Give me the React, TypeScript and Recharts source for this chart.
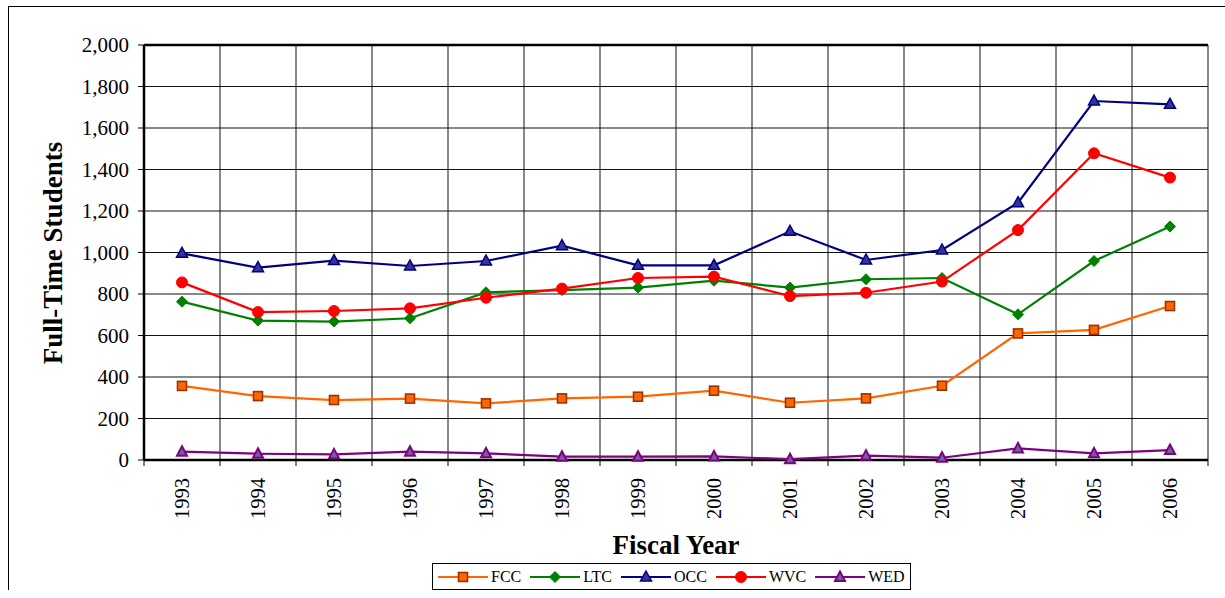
import React from 'react';
import { LineChart, Line, XAxis, YAxis, CartesianGrid, ReferenceLine } from 'recharts';

const years = ['1993', '1994', '1995', '1996', '1997', '1998', '1999', '2000', '2001', '2002', '2003', '2004', '2005', '2006'];
const fcc = [357, 308, 289, 296, 273, 297, 305, 334, 276, 297, 358, 610, 627, 742];
const ltc = [763, 672, 667, 683, 808, 819, 831, 864, 831, 871, 877, 702, 959, 1125];
const occ = [996, 927, 961, 935, 959, 1033, 938, 938, 1102, 964, 1012, 1240, 1730, 1714];
const wvc = [856, 713, 718, 731, 782, 826, 877, 884, 790, 806, 860, 1108, 1478, 1361];
const wed = [40, 30, 27, 40, 32, 16, 16, 17, 4, 21, 11, 56, 32, 48];
const yTicks = [0, 200, 400, 600, 800, 1000, 1200, 1400, 1600, 1800, 2000];
const boundaryTicks = years.map((_, i) => i).concat(years.length);

const data = years.map((year, i) => ({
  year,
  FCC: fcc[i],
  LTC: ltc[i],
  OCC: occ[i],
  WVC: wvc[i],
  WED: wed[i],
}));

const FONT = 'Liberation Serif';
const LABEL_GAP = 18;

type MarkerKind = 'square' | 'diamond' | 'triangle' | 'circle' | 'triangleHollow';

function Marker({ kind, cx, cy }: { kind: MarkerKind; cx: number; cy: number }) {
  if (kind === 'square') {
    return <rect x={cx - 4.5} y={cy - 4.5} width={9} height={9} fill="#FF6600" stroke="#993300" strokeWidth={1.6} />;
  }
  if (kind === 'diamond') {
    return (
      <polygon
        points={`${cx},${cy - 5.5} ${cx + 5.5},${cy} ${cx},${cy + 5.5} ${cx - 5.5},${cy}`}
        fill="#008000"
        stroke="#008000"
        strokeWidth={1}
      />
    );
  }
  if (kind === 'circle') {
    return <circle cx={cx} cy={cy} r={5.5} fill="#FF0000" stroke="#FF0000" strokeWidth={1} />;
  }
  if (kind === 'triangle') {
    return (
      <polygon
        points={`${cx},${cy - 6} ${cx + 5.5},${cy + 4} ${cx - 5.5},${cy + 4}`}
        fill="#333399"
        stroke="#000080"
        strokeWidth={1.5}
      />
    );
  }
  return (
    <polygon
      points={`${cx},${cy - 5.5} ${cx + 5},${cy + 4} ${cx - 5},${cy + 4}`}
      fill="#666699"
      stroke="#800080"
      strokeWidth={2}
    />
  );
}

const series: { key: string; color: string; marker: MarkerKind }[] = [
  { key: 'FCC', color: '#FF6600', marker: 'square' },
  { key: 'LTC', color: '#008000', marker: 'diamond' },
  { key: 'OCC', color: '#000080', marker: 'triangle' },
  { key: 'WVC', color: '#FF0000', marker: 'circle' },
  { key: 'WED', color: '#800080', marker: 'triangleHollow' },
];

// year label rotated, plus Excel-style tick marks on the category boundaries
function YearTick(props: any) {
  const { x, y, payload, index } = props;
  const half = payload.offset || 0;
  const ly = y + LABEL_GAP;
  return (
    <g>
      <line x1={x - half} y1={y} x2={x - half} y2={y + 6} stroke="#000" />
      {index === years.length - 1 && <line x1={x + half} y1={y} x2={x + half} y2={y + 6} stroke="#000" />}
      <text
        x={x}
        y={ly}
        dy="0.35em"
        transform={`rotate(-90, ${x}, ${ly})`}
        textAnchor="end"
        style={{ fontFamily: FONT, fontSize: 20.5 }}
        fill="#000"
      >
        {payload.value}
      </text>
    </g>
  );
}

function ChartLegend() {
  return (
    <div
      style={{
        position: 'absolute',
        left: 423,
        top: 556,
        width: 479,
        height: 27,
        border: '1px solid #000',
        display: 'flex',
        alignItems: 'center',
        paddingLeft: 5,
        boxSizing: 'border-box',
        fontFamily: FONT,
        fontSize: 16,
        background: '#fff',
      }}
    >
      {series.map((s) => (
        <div key={s.key} style={{ display: 'flex', alignItems: 'center', marginRight: 9 }}>
          <svg width={50} height={14}>
            <line x1={0} y1={7} x2={50} y2={7} stroke={s.color} strokeWidth={2.2} />
            <Marker kind={s.marker} cx={25} cy={7} />
          </svg>
          <span style={{ marginLeft: 3 }}>{s.key}</span>
        </div>
      ))}
    </div>
  );
}

export default function App() {
  return (
    <div
      style={{
        position: 'absolute',
        left: 8,
        top: 6,
        width: 1217,
        height: 584,
        borderLeft: '1px solid #000',
        borderTop: '1px solid #000',
        boxSizing: 'border-box',
        background: '#fff',
        fontFamily: FONT,
      }}
    >
      <LineChart
        width={1216}
        height={583}
        data={data}
        margin={{ top: 38, right: 17, bottom: 49, left: 55 }}
        style={{ fontFamily: FONT }}
      >
        <XAxis
          dataKey="year"
          scale="band"
          height={80}
          axisLine={false}
          tickLine={false}
          tickSize={0}
          tickMargin={0}
          tick={<YearTick />}
          interval={0}
        />
        <XAxis
          xAxisId="grid"
          type="number"
          domain={[0, years.length]}
          ticks={boundaryTicks}
          allowDataOverflow
          height={1}
          tick={false}
          axisLine={false}
          tickLine={false}
        />
        <YAxis
          domain={[0, 2000]}
          ticks={yTicks}
          width={80}
          tickSize={6}
          tickMargin={9}
          axisLine={false}
          tickLine={{ stroke: '#000' }}
          tickFormatter={(v: number) => v.toLocaleString('en-US')}
          tick={{ fontFamily: FONT, fontSize: 21, fill: '#000' }}
        />
        <CartesianGrid
          stroke="#111"
          strokeWidth={1}
          verticalCoordinatesGenerator={({ offset }: any) =>
            boundaryTicks.map((i) => offset.left + (i * offset.width) / years.length)
          }
        />
        <ReferenceLine y={2000} stroke="#000" strokeWidth={2.5} />
        <ReferenceLine y={0} stroke="#000" strokeWidth={2.5} />
        <ReferenceLine xAxisId="grid" x={0} stroke="#000" strokeWidth={2.5} />
        <ReferenceLine xAxisId="grid" x={years.length} stroke="#000" strokeWidth={2.5} />
        {series.map((s) => (
          <Line
            key={s.key}
            dataKey={s.key}
            stroke={s.color}
            strokeWidth={2.2}
            isAnimationActive={false}
            dot={(p: any) => <Marker key={`${s.key}-${p.index}`} kind={s.marker} cx={p.cx} cy={p.cy} />}
            activeDot={false}
          />
        ))}
      </LineChart>
      <div
        style={{
          position: 'absolute',
          left: 43.5,
          top: 245.5,
          transform: 'translate(-50%, -50%) rotate(-90deg)',
          whiteSpace: 'nowrap',
          fontWeight: 'bold',
          fontSize: 27,
        }}
      >
        Full-Time Students
      </div>
      <div
        style={{
          position: 'absolute',
          left: 667,
          top: 538,
          transform: 'translate(-50%, -50%)',
          whiteSpace: 'nowrap',
          fontWeight: 'bold',
          fontSize: 27,
        }}
      >
        Fiscal Year
      </div>
      <ChartLegend />
    </div>
  );
}
